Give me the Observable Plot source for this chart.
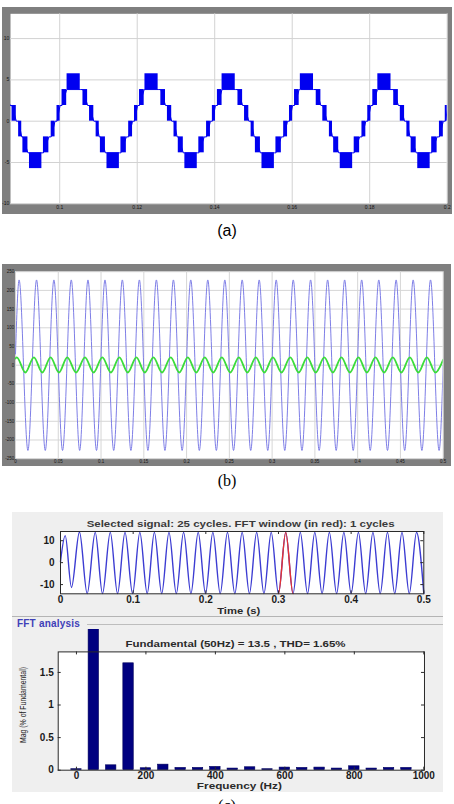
<!DOCTYPE html>
<html>
<head>
<meta charset="utf-8">
<script src="https://cdn.jsdelivr.net/npm/d3@7"></script>
<script src="https://cdn.jsdelivr.net/npm/@observablehq/plot@0.6"></script>
<style>
  html, body { margin: 0; padding: 0; background: #fff; width: 454px; height: 804px; overflow: hidden; }
  #fig { position: relative; width: 454px; height: 804px; }
  .abs { position: absolute; }
  svg { overflow: hidden; }
  .cap { position: absolute; left: 0; width: 454px; text-align: center; font-size: 16px; line-height: 18px; color: #000; }
</style>
</head>
<body>
<div id="fig"></div>
<script>
// ---------- (a) seven-level inverter output voltage ----------
const xTicksA = [0.1, 0.12, 0.14, 0.16, 0.18, 0.2];
const xLabelsA = ["0.1", "0.12", "0.14", "0.16", "0.18", "0.2"];
const yTicksA = [-10, -5, 0, 5, 10];
const yLabelsA = ["-10", "-5", "0", "5", "10"];
// centre of each positive plateau (s)
const stairPeakTimes = [0.0836, 0.1036, 0.1237, 0.1436, 0.1638, 0.1838];
// one fundamental cycle of switching bands, relative to the plateau centre
const bandStart = [-0.0017, 0.0024, 0.0041, 0.0058, 0.0069, 0.0086, 0.0122, 0.0142, 0.0157, 0.0170];
const bandEnd   = [ 0.0017, 0.0036, 0.0052, 0.0066, 0.0082, 0.0118, 0.0136, 0.0152, 0.0165, 0.0182];
const bandLow   = [ 3.83,  1.9,   0,    -1.9,  -3.83, -5.74, -3.83, -1.9,  0,     1.9 ];
const bandHigh  = [ 5.74,  3.83,  1.9,   0,    -1.9,  -3.83, -1.9,   0,    1.9,   3.83];
const bandEnter = [ 3.83,  3.83,  1.9,   0,    -1.9,  -3.83, -3.83, -1.9,  0,     1.9 ];
const bandLeave = [ 3.83,  1.9,   0,    -1.9,  -3.83, -3.83, -1.9,   0,    1.9,   3.83];

// ---------- (b) load voltage and current ----------
const xTicksB = [0, 0.05, 0.1, 0.15, 0.2, 0.25, 0.3, 0.35, 0.4, 0.45, 0.5];
const xLabelsB = ["0", "0.05", "0.1", "0.15", "0.2", "0.25", "0.3", "0.35", "0.4", "0.45", "0.5"];
const yTicksB = [-250, -200, -150, -100, -50, 0, 50, 100, 150, 200, 250];
const yLabelsB = ["-250", "-200", "-150", "-100", "-50", "0", "50", "100", "150", "200", "250"];
// voltage: start, then alternating crest / trough times and values
const voltT = [0, 0.0042, 0.0145, 0.0246, 0.0348, 0.0449, 0.055, 0.0652, 0.075, 0.0847, 0.0947,
  0.1046, 0.1148, 0.1249, 0.1349, 0.1448, 0.1548, 0.1647, 0.1747, 0.1846, 0.1948, 0.2049, 0.2149,
  0.2248, 0.2348, 0.2447, 0.2549, 0.265, 0.275, 0.2849, 0.2949, 0.3048, 0.3148, 0.3247, 0.3349,
  0.345, 0.355, 0.3649, 0.3749, 0.3848, 0.3948, 0.4047, 0.4147, 0.4247, 0.4349, 0.445, 0.455,
  0.4649, 0.4751, 0.4852, 0.4952, 0.5];
const voltV = [30, 228, -228, 228, -228, 228, -228, 228, -228, 228, -228, 228, -228, 228, -228,
  228, -228, 228, -228, 228, -228, 228, -228, 228, -228, 228, -228, 228, -228, 228, -228, 228,
  -228, 228, -228, 228, -228, 228, -228, 228, -228, 228, -228, 228, -228, 228, -228, 228, -228,
  228, -228, 0];
const currT = [0, 0.0015, 0.0115, 0.0215, 0.0313, 0.041, 0.0508, 0.0605, 0.0708, 0.0812, 0.0913,
  0.1015, 0.1115, 0.1214, 0.1313, 0.1413, 0.1512, 0.1612, 0.1713, 0.1815, 0.1915, 0.2014, 0.2113,
  0.2213, 0.2312, 0.2412, 0.2511, 0.2611, 0.271, 0.281, 0.2909, 0.3009, 0.311, 0.3212, 0.3311,
  0.3411, 0.351, 0.361, 0.371, 0.381, 0.3909, 0.4009, 0.4108, 0.4208, 0.4309, 0.4411, 0.451,
  0.461, 0.4709, 0.4809, 0.4909, 0.5];
const currV = [18, 21, -19.5, 21, -19.5, 21, -19.5, 21, -19.5, 21, -19.5, 21, -19.5, 21, -19.5,
  21, -19.5, 21, -19.5, 21, -19.5, 21, -19.5, 21, -19.5, 21, -19.5, 21, -19.5, 21, -19.5, 21,
  -19.5, 21, -19.5, 21, -19.5, 21, -19.5, 21, -19.5, 21, -19.5, 21, -19.5, 21, -19.5, 21, -19.5,
  21, -19.5, 15];

// ---------- (c) FFT analysis ----------
const sigTitle = "Selected signal: 25 cycles. FFT window (in red): 1 cycles";
const sigT = [0, 0.0065, 0.0151, 0.0261, 0.0367, 0.0478, 0.0578, 0.0685, 0.0785, 0.0888, 0.0992,
  0.1092, 0.1193, 0.1292, 0.1393, 0.1493, 0.1594, 0.1694, 0.1795, 0.1895, 0.1996, 0.2097, 0.2198,
  0.2298, 0.2399, 0.25, 0.26, 0.27, 0.28, 0.29, 0.30, 0.31, 0.32, 0.33, 0.34, 0.35, 0.36, 0.37,
  0.38, 0.39, 0.40, 0.41, 0.42, 0.43, 0.44, 0.45, 0.46, 0.47, 0.48, 0.49, 0.50];
const sigV = [0.5, 12.3, -11.3, 14, -14.1, 13.8, -14.1, 13.8, -14.1, 13.8, -14.1, 13.8, -14.1,
  13.8, -14.1, 13.8, -14.1, 13.8, -14.1, 13.8, -14.1, 13.8, -14.1, 13.8, -14.1, 13.8, -14.1, 13.8,
  -14.1, 13.8, -14.1, 13.8, -14.1, 13.8, -14.1, 13.8, -14.1, 13.8, -14.1, 13.8, -14.1, 13.8, -14.1,
  13.8, -14.1, 13.8, -14.1, 13.8, -14.1, 13.8, -14.1];
const fftWindow = [0.30, 0.32];
const xTicksC = [0, 0.1, 0.2, 0.3, 0.4, 0.5];
const xLabelsC = ["0", "0.1", "0.2", "0.3", "0.4", "0.5"];
const yTicksC = [-10, 0, 10];
const yLabelsC = ["-10", "0", "10"];

const fundText = "Fundamental (50Hz) = 13.5 , THD= 1.65%";
const harmFreq = [0, 50, 100, 150, 200, 250, 300, 350, 400, 450, 500, 550, 600, 650, 700, 750, 800, 850, 900, 950];
const harmMag = [0.015, 100, 0.075, 1.64, 0.03, 0.085, 0.035, 0.035, 0.05, 0.025, 0.045, 0.015,
  0.04, 0.035, 0.04, 0.025, 0.06, 0.025, 0.035, 0.035];
const xTicksF = [0, 200, 400, 600, 800, 1000];
const xLabelsF = ["0", "200", "400", "600", "800", "1000"];
const yTicksF = [0, 0.5, 1, 1.5];
const yLabelsF = ["0", "0.5", "1", "1.5"];
const magLabel = "Mag (% of Fundamental)";

const fig = document.getElementById("fig");
function place(node, left, top) {
  const d = document.createElement("div");
  d.className = "abs";
  d.style.left = left + "px";
  d.style.top = top + "px";
  d.appendChild(node);
  fig.appendChild(d);
  return d;
}
function caption(text, top, family) {
  const d = document.createElement("div");
  d.className = "cap";
  d.style.top = top + "px";
  d.style.fontFamily = family;
  d.textContent = text;
  fig.appendChild(d);
}
// stretch a text element of an svg to a given length
function fitText(svg, content, len) {
  d3.select(svg).selectAll("text")
    .filter(function() { return this.textContent === content; })
    .attr("textLength", len).attr("lengthAdjust", "spacingAndGlyphs");
}
const lab = (ticks, labels) => d => labels[ticks.indexOf(d)];

// cubic segments with flat tangents at every vertex (vertices are crests/troughs)
function flatHermite(context) {
  let x0, y0, n = 0;
  return {
    areaStart() {}, areaEnd() {},
    lineStart() { n = 0; },
    lineEnd() {},
    point(x, y) {
      x = +x; y = +y;
      if (n++ === 0) context.moveTo(x, y);
      else { const dx = (x - x0) / 3; context.bezierCurveTo(x0 + dx, y0, x - dx, y, x, y); }
      x0 = x; y0 = y;
    }
  };
}

// ----- panel (a)
const bands = stairPeakTimes.flatMap(c => bandStart.map((s, i) => ({
  t1: c + s, t2: c + bandEnd[i], lo: bandLow[i], hi: bandHigh[i], enter: bandEnter[i], leave: bandLeave[i]
})));
const stairPath = bands.flatMap(b => [{t: b.t1, v: b.enter}, {t: b.t2, v: b.leave}]);

const plotA = Plot.plot({
  width: 450, height: 207,
  marginLeft: 8, marginRight: 5.3, marginTop: 6.3, marginBottom: 10.7,
  style: {background: "#7f7f7f", fontFamily: "'Liberation Sans', Arial, sans-serif", fontSize: "5px", color: "#151515"},
  x: {domain: [0.0873, 0.2], label: null},
  y: {domain: [-10, 13], label: null},
  marks: [
    Plot.frame({fill: "white"}),
    Plot.gridX(xTicksA, {stroke: "#d2d2d2", strokeOpacity: 1}),
    Plot.gridY(yTicksA, {stroke: "#d2d2d2", strokeOpacity: 1}),
    Plot.line(stairPath, {x: "t", y: "v", stroke: "#0000f0", strokeWidth: 1, clip: true}),
    Plot.rect(bands, {x1: "t1", x2: "t2", y1: "lo", y2: "hi", fill: "#0000f0", clip: true}),
    Plot.axisX(xTicksA, {tickSize: 0, tickPadding: 2, tickFormat: lab(xTicksA, xLabelsA), label: null}),
    Plot.axisY(yTicksA, {tickSize: 0, tickPadding: 1.2, tickFormat: lab(yTicksA, yLabelsA), label: null})
  ]
});
place(plotA, 2, 7);
caption("(a)", 222, "'Liberation Sans', Arial, sans-serif");

// ----- panel (b)
const volt = voltT.map((t, i) => ({t, v: voltV[i]}));
const curr = currT.map((t, i) => ({t, v: currV[i]}));
const plotB = Plot.plot({
  width: 449, height: 201.4,
  marginLeft: 13, marginRight: 8.3, marginTop: 7.2, marginBottom: 7.2,
  style: {background: "#7f7f7f", fontFamily: "'Liberation Sans', Arial, sans-serif", fontSize: "4.5px", color: "#151515"},
  x: {domain: [0, 0.5], label: null},
  y: {domain: [-250, 250], label: null},
  marks: [
    Plot.frame({fill: "white"}),
    Plot.gridX(xTicksB, {stroke: "#d6d6d6", strokeOpacity: 1}),
    Plot.gridY(yTicksB, {stroke: "#d6d6d6", strokeOpacity: 1}),
    Plot.line(volt, {x: "t", y: "v", curve: "monotone-x", stroke: "#7d7de6", strokeWidth: 1, clip: true}),
    Plot.line(curr, {x: "t", y: "v", curve: "monotone-x", stroke: "#3cdc3c", strokeWidth: 1.8, clip: true}),
    Plot.axisX(xTicksB, {tickSize: 0, tickPadding: 1.3, tickFormat: lab(xTicksB, xLabelsB), label: null}),
    Plot.axisY(yTicksB, {tickSize: 0, tickPadding: 1.2, tickFormat: lab(yTicksB, yLabelsB), label: null})
  ]
});
place(plotB, 2, 264.3);
caption("(b)", 472, "'Liberation Serif', 'Times New Roman', serif");

// ----- panel (c) background and group box
const bg = document.createElement("div");
bg.className = "abs";
Object.assign(bg.style, {left: "12px", top: "512px", width: "431px", height: "280px", background: "#efefef"});
fig.appendChild(bg);
const sep = document.createElement("div");
sep.className = "abs";
Object.assign(sep.style, {left: "12px", top: "616px", width: "431px", height: "0", borderTop: "1px solid #b4b4b4"});
fig.appendChild(sep);
const grpLine = document.createElement("div");
grpLine.className = "abs";
Object.assign(grpLine.style, {left: "87px", top: "624px", width: "356px", height: "0", borderTop: "1px solid #bdbdbd"});
fig.appendChild(grpLine);
const grp = document.createElement("div");
grp.className = "abs";
Object.assign(grp.style, {left: "17px", top: "618px", font: "bold 10px 'Liberation Sans', Arial, sans-serif", lineHeight: "12px", color: "#4040b8", letterSpacing: "0.2px"});
grp.textContent = "FFT analysis";
fig.appendChild(grp);

const cFont = "'Liberation Sans', Arial, sans-serif";

// selected signal
const sig = sigT.map((t, i) => ({t, v: sigV[i]}));
const win = sig.filter(d => d.t >= fftWindow[0] && d.t <= fftWindow[1]);
const c1W = 431, c1H = 104, c1L = 48, c1R = 19.7, c1T = 19, c1B = 22.7;
const c1FH = c1H - c1T - c1B, c1FW = c1W - c1L - c1R;
const plotC1 = Plot.plot({
  width: c1W, height: c1H,
  marginLeft: c1L, marginRight: c1R, marginTop: c1T, marginBottom: c1B,
  style: {background: "transparent", fontFamily: cFont, fontSize: "10px", fontWeight: "bold", color: "#1a1a1a"},
  x: {domain: [0, 0.5], label: null},
  y: {domain: [-14.2, 14.2], label: null},
  marks: [
    Plot.frame({fill: "white"}),
    Plot.line(sig, {x: "t", y: "v", curve: "monotone-x", stroke: "#3c3cd2", strokeWidth: 1.4}),
    Plot.line(win, {x: "t", y: "v", curve: flatHermite, stroke: "#e63232", strokeWidth: 1.4}),
    Plot.frame({stroke: "#2a2a2a"}),
    Plot.tickX(xTicksC, {x: d => d, insetTop: c1FH - 3, stroke: "#2a2a2a"}),
    Plot.tickX(xTicksC, {x: d => d, insetBottom: c1FH - 3, stroke: "#2a2a2a"}),
    Plot.tickY(yTicksC, {y: d => d, insetRight: c1FW - 3, stroke: "#2a2a2a"}),
    Plot.tickY(yTicksC, {y: d => d, insetLeft: c1FW - 3, stroke: "#2a2a2a"}),
    Plot.axisX(xTicksC, {tickSize: 0, tickPadding: 2.5, tickFormat: lab(xTicksC, xLabelsC), label: null}),
    Plot.axisY(yTicksC, {tickSize: 0, tickPadding: 6, tickFormat: lab(yTicksC, yLabelsC), label: null}),
    Plot.text([sigTitle], {text: d => d, frameAnchor: "top", lineAnchor: "middle", dy: -8, dx: -1.5, fill: "#3a3a3a", fontSize: 9.5}),
    Plot.text(["Time (s)"], {text: d => d, frameAnchor: "bottom", lineAnchor: "middle", dy: 16.7, dx: -3.5, fill: "#2a2a2a", fontSize: 9.5})
  ]
});
fitText(plotC1, sigTitle, 308);
fitText(plotC1, "Time (s)", 43);
place(plotC1, 12, 512);

// harmonic spectrum
const harm = harmFreq.map((f, i) => ({f, mag: harmMag[i]}));
const barHalf = 15;
const c2W = 431, c2H = 162.7, c2L = 45.7, c2R = 19, c2T = 22.4, c2B = 22;
const c2FH = c2H - c2T - c2B, c2FW = c2W - c2L - c2R;
const plotC2 = Plot.plot({
  width: c2W, height: c2H,
  marginLeft: c2L, marginRight: c2R, marginTop: c2T, marginBottom: c2B,
  style: {background: "transparent", fontFamily: cFont, fontSize: "10px", fontWeight: "bold", color: "#1a1a1a"},
  x: {domain: [-52.5, 1002], label: null},
  y: {domain: [0, 1.815], label: null},
  marks: [
    Plot.frame({fill: "white"}),
    Plot.rect(harm, {x1: d => d.f - barHalf, x2: d => d.f + barHalf, y1: () => 0, y2: "mag", fill: "#000080", stroke: "#00005a", strokeWidth: 0.6}),
    Plot.frame({stroke: "#2a2a2a"}),
    Plot.tickX(xTicksF, {x: d => d, insetTop: c2FH - 3, stroke: "#2a2a2a"}),
    Plot.tickX(xTicksF, {x: d => d, insetBottom: c2FH - 3, stroke: "#2a2a2a"}),
    Plot.tickY(yTicksF, {y: d => d, insetRight: c2FW - 3, stroke: "#2a2a2a"}),
    Plot.tickY(yTicksF, {y: d => d, insetLeft: c2FW - 3, stroke: "#2a2a2a"}),
    Plot.axisX(xTicksF, {tickSize: 0, tickPadding: 2.1, tickFormat: lab(xTicksF, xLabelsF), label: null}),
    Plot.axisY(yTicksF, {tickSize: 0, tickPadding: 4.5, tickFormat: lab(yTicksF, yLabelsF), label: null}),
    Plot.text([fundText], {text: d => d, frameAnchor: "top", lineAnchor: "middle", dy: -8.4, dx: -5.8, fill: "#2a2a2a", fontSize: 9.5}),
    Plot.text(["Frequency (Hz)"], {text: d => d, frameAnchor: "bottom", lineAnchor: "middle", dy: 16, dx: -2, fill: "#2a2a2a", fontSize: 9.5}),
    Plot.text([magLabel], {text: d => d, frameAnchor: "left", textAnchor: "middle", lineAnchor: "middle", rotate: -90, dx: -35.2, dy: -6, fontSize: 9, fontWeight: "normal", fill: "#222"})
  ]
});
fitText(plotC2, fundText, 220);
fitText(plotC2, "Frequency (Hz)", 85);
fitText(plotC2, magLabel, 76);
place(plotC2, 12, 629.3);

caption("(c)", 797, "'Liberation Serif', 'Times New Roman', serif");
</script>
</body>
</html>
